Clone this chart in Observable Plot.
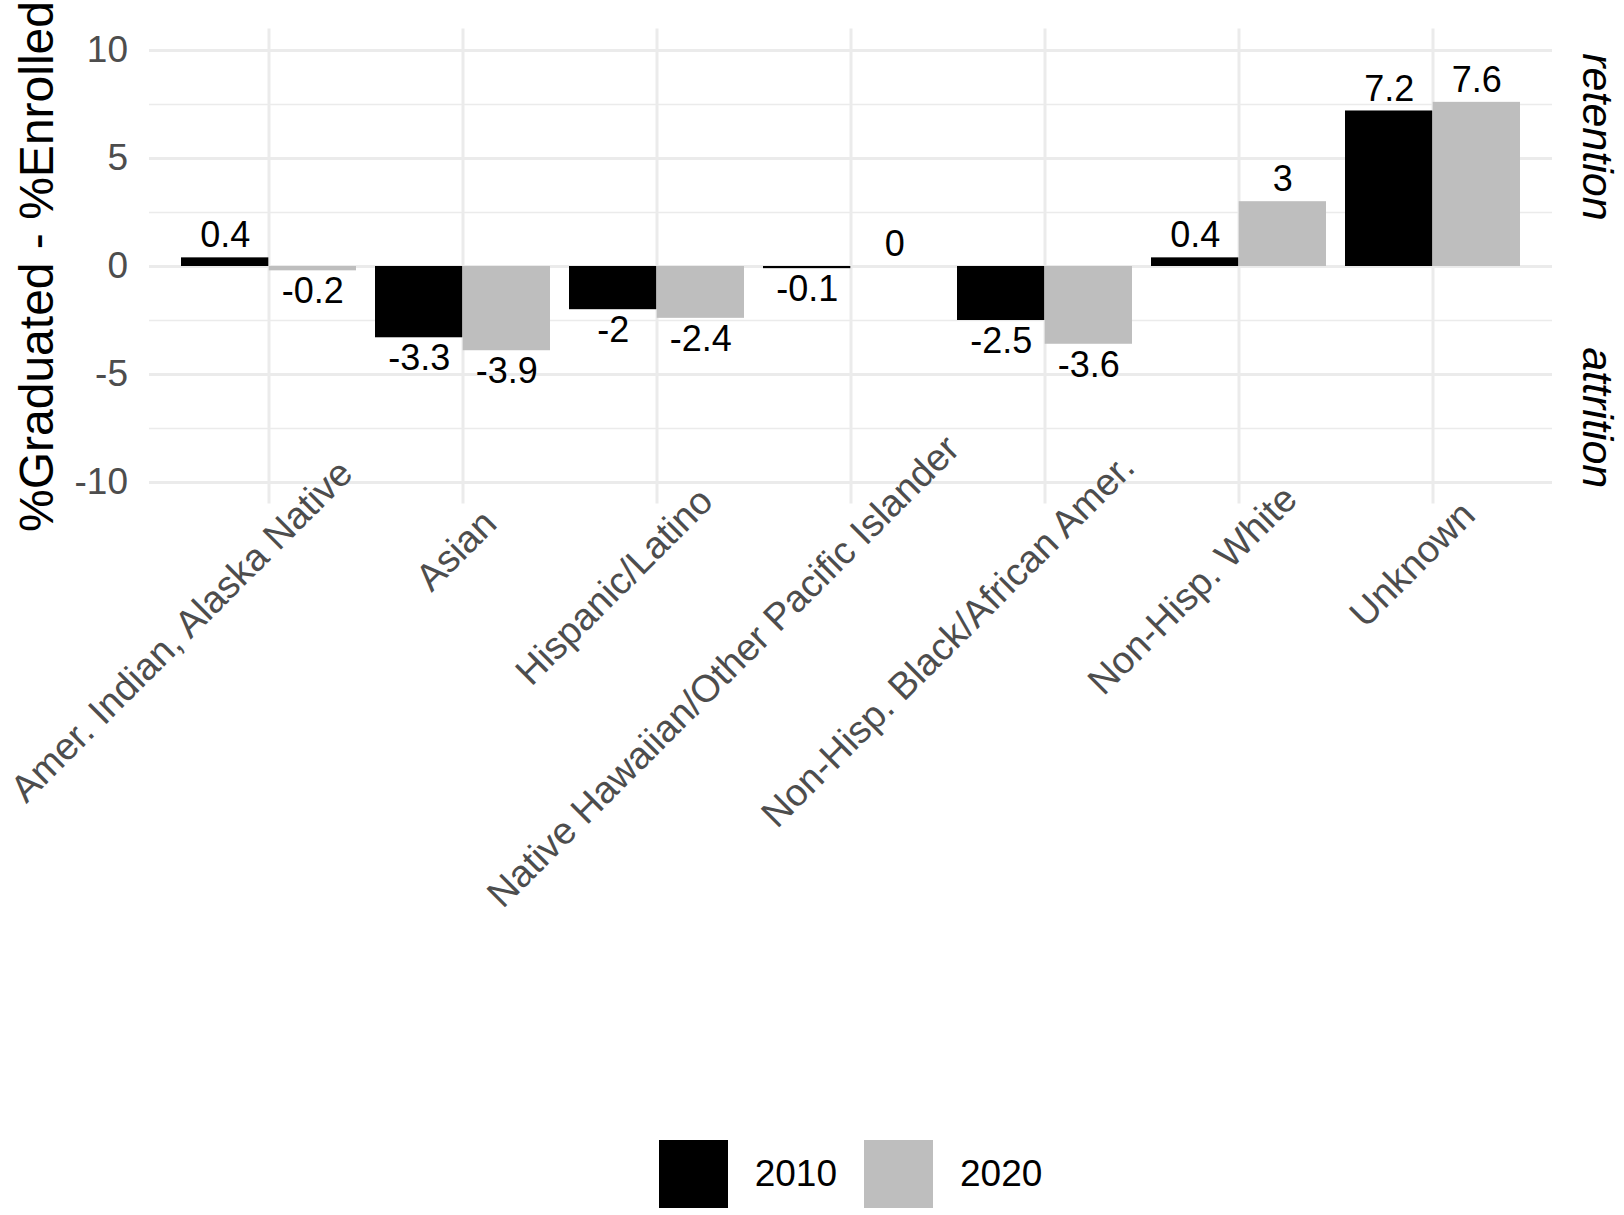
<!DOCTYPE html>
<html>
<head>
<meta charset="utf-8">
<script src="https://cdn.jsdelivr.net/npm/d3@7"></script>
<script src="https://cdn.jsdelivr.net/npm/@observablehq/plot@0.6"></script>
<style>
  body { margin: 0; background: #fff; font-family: "Liberation Sans", Arial, sans-serif; }
  #chart svg { display: block; }
  .legend { width: 1624px; box-sizing: border-box; padding-left: 149px; padding-right: 72px;
            display: flex; justify-content: center; align-items: center; height: 68px; }
  .sw { width: 69px; height: 68px; }
  .lab { font-size: 37px; color: #000; margin: 0 27px; }
</style>
</head>
<body>
<div id="chart"></div>
<div class="legend" id="legend"></div>
<script>
// ---- data ----
const categories = [
  "Amer. Indian, Alaska Native",
  "Asian",
  "Hispanic/Latino",
  "Native Hawaiian/Other Pacific Islander",
  "Non-Hisp. Black/African Amer.",
  "Non-Hisp. White",
  "Unknown"
];
const years = ["2010", "2020"];
const values2010 = [0.4, -3.3, -2, -0.1, -2.5, 0.4, 7.2];
const values2020 = [-0.2, -3.9, -2.4, 0, -3.6, 3, 7.6];
const yTicks = [-10, -5, 0, 5, 10];
const yMinorTicks = [-7.5, -2.5, 2.5, 7.5];
const yDomain = [-11, 11];
const yTitle = "%Graduated - %Enrolled";
const sideLabels = ["retention", "attrition"];
const sideLabelY = [6, -7];
const yearColors = ["#000000", "#BEBEBE"];

const seriesValues = [values2010, values2020];
const rows = categories.flatMap((c, i) =>
  years.map((y, j) => ({category: c, year: y, value: seriesValues[j][i]}))
);

// ---- layout ----
const W = 1624, H = 1140;
const mL = 149, mR = 72, mT = 28.4, mB = 636.4;
const padInner = 0.1, padOuter = 0.15;
const step = (W - mL - mR) / (categories.length - padInner + 2 * padOuter);
const bw = step * (1 - padInner);
const half = bw / 2;
const grid = "#EBEBEB";
const tickColor = "#4D4D4D";
const fontFam = "Liberation Sans, Arial, sans-serif";
const tickFont = 37;
const xTickFont = 38;

const ctx = document.createElement("canvas").getContext("2d");
ctx.font = `${xTickFont}px "Liberation Sans"`;

const marks = [
  Plot.ruleY(yMinorTicks, {stroke: grid, strokeWidth: 1.5}),
  Plot.gridY(yTicks, {stroke: grid, strokeOpacity: 1, strokeWidth: 3}),
  Plot.gridX(categories, {stroke: grid, strokeOpacity: 1, strokeWidth: 3})
];

years.forEach((yr, j) => {
  const sub = rows.filter(d => d.year === yr);
  marks.push(Plot.barY(sub, {
    x: "category", y: "value", fill: "year",
    insetLeft: j === 0 ? 0 : half,
    insetRight: j === 0 ? half : 0
  }));
  const off = j === 0 ? -bw / 4 : bw / 4;
  marks.push(Plot.text(sub.filter(d => d.value >= 0), {
    x: "category", y: "value", text: d => String(d.value),
    dx: off, dy: -22, fontSize: 36, fill: "#000", lineAnchor: "middle"
  }));
  marks.push(Plot.text(sub.filter(d => d.value < 0), {
    x: "category", y: "value", text: d => String(d.value),
    dx: off, dy: 21, fontSize: 36, fill: "#000", lineAnchor: "middle"
  }));
});

// rotated x tick labels
categories.forEach(c => {
  const L = ctx.measureText(c).width;
  marks.push(Plot.text([c], {
    x: d => d, text: d => d, frameAnchor: "bottom",
    textAnchor: "end", lineAnchor: "bottom", rotate: -45,
    dx: 22.8 + 0.135 * L, dy: 34.5 - 0.135 * L,
    fontSize: xTickFont, fill: tickColor
  }));
});

marks.push(Plot.axisY(yTicks, {
  tickSize: 0, tickPadding: 21.5, fontSize: tickFont, color: tickColor,
  tickFormat: d => String(d), label: null
}));

marks.push(Plot.text([yTitle], {
  text: d => d, frameAnchor: "left", rotate: -90,
  textAnchor: "middle", lineAnchor: "bottom", dx: -97,
  fontSize: 48, fill: "#000"
}));

marks.push(Plot.text(sideLabels, {
  text: d => d, y: (d, i) => sideLabelY[i], frameAnchor: "right",
  rotate: 90, textAnchor: "middle", lineAnchor: "bottom", dx: 30,
  fontSize: 43, fontStyle: "italic", fill: "#000"
}));

const chart = Plot.plot({
  width: W, height: H,
  marginLeft: mL, marginRight: mR, marginTop: mT, marginBottom: mB,
  style: {fontFamily: fontFam, background: "#fff"},
  x: {domain: categories, paddingInner: padInner, paddingOuter: padOuter, axis: null},
  y: {domain: yDomain, axis: null},
  color: {domain: years, range: yearColors},
  marks
});
document.getElementById("chart").appendChild(chart);

// legend
const leg = document.getElementById("legend");
years.forEach((yr, j) => {
  const sw = document.createElement("div");
  sw.className = "sw";
  sw.style.background = yearColors[j];
  const lab = document.createElement("span");
  lab.className = "lab";
  lab.textContent = yr;
  if (j === years.length - 1) lab.style.marginRight = "0";
  leg.appendChild(sw);
  leg.appendChild(lab);
});
</script>
</body>
</html>
